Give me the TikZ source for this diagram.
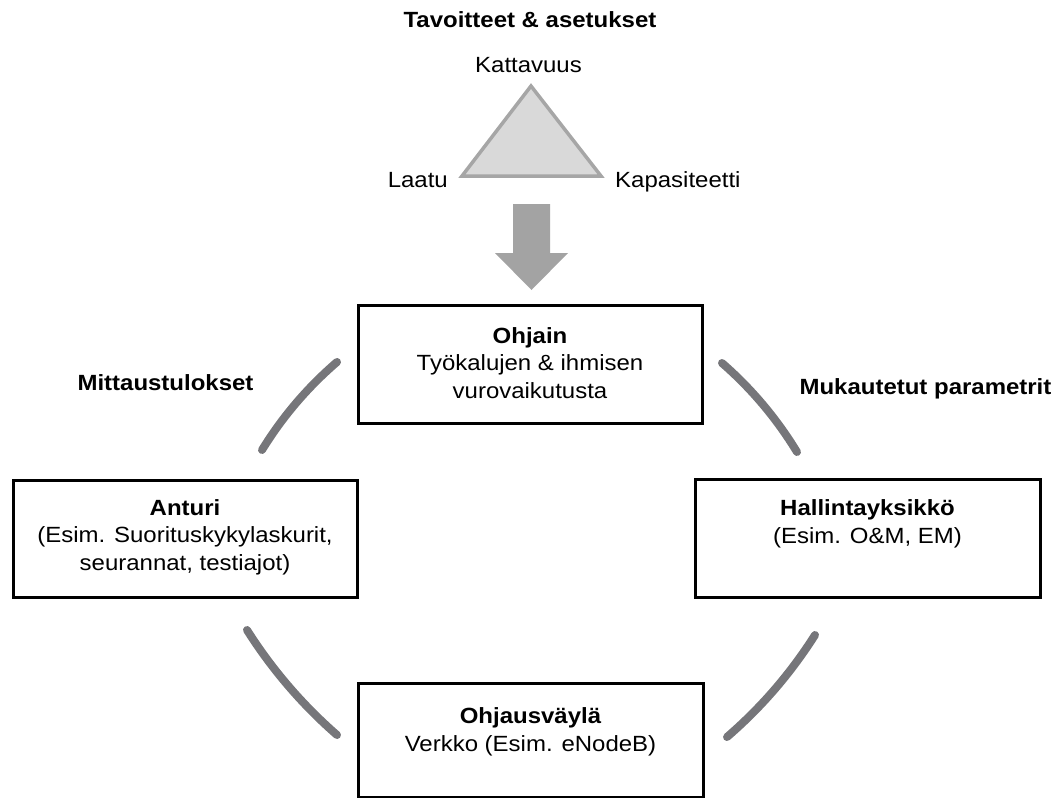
\documentclass[tikz,border=0pt]{standalone}
\usepackage{fontspec}
\setmainfont{Liberation Sans}[FakeStretch=1.09]
\definecolor{trifill}{HTML}{D9D9D9}
\definecolor{tridraw}{HTML}{A6A6A6}
\definecolor{arrowgray}{HTML}{A3A3A3}
\definecolor{arcgray}{HTML}{76767A}
\begin{document}
\begin{tikzpicture}[x=1pt,y=-1pt,
  box/.style={draw=black, line width=3pt, inner sep=0pt, fill=none},
  txt/.style={font=\fontsize{22}{27.5}\selectfont, align=center, inner sep=0pt},
  lbl/.style={font=\fontsize{22}{27.5}\selectfont\bfseries, inner sep=0pt},
  plain/.style={font=\fontsize{22}{27.5}\selectfont, inner sep=0pt},
  arcline/.style={draw=arcgray, line width=8pt, line cap=round}]
\useasboundingbox (0,0) rectangle (1061,798);

% title and triangle
\node[lbl, anchor=base] (title) at (530,27) {Tavoitteet \& asetukset};
\node[plain, anchor=base] (kattavuus) at (528.5,72) {Kattavuus};
\node[plain, anchor=base east] (laatu) at (448,187) {Laatu};
\node[plain, anchor=base west] (kapasiteetti) at (615,187) {Kapasiteetti};
\coordinate (tA) at (531,86);
\coordinate (tR) at (601,176);
\coordinate (tL) at (462,176);
\draw[fill=trifill, draw=tridraw, line width=3.5pt, line join=miter] (tA) -- (tR) -- (tL) -- cycle;

% block arrow
\fill[arrowgray] (513,204) -- (550,204) -- (550,253) -- (568,253) -- (531.5,290) -- (495,253) -- (513,253) -- cycle;

% boxes
\node[box, minimum width=344pt, minimum height=118pt] (ohjain) at (530,364) {};
\node[box, minimum width=344pt, minimum height=117pt] (anturi) at (185,538.5) {};
\node[box, minimum width=345pt, minimum height=118pt] (hallinta) at (867.5,538) {};
\node[box, minimum width=345pt, minimum height=114pt] (ohjaus) at (530.5,740) {};

% box texts (anchor=base is the baseline of the last line)
\node[txt, anchor=base] (ohjaintxt) at (530,398) {\textbf{Ohjain}\\Työkalujen \& ihmisen\\vurovaikutusta};
\node[txt, anchor=base] (anturitxt) at (185,570) {\textbf{Anturi}\\(Esim. Suorituskykylaskurit,\\seurannat, testiajot)};
\node[txt, anchor=base] (hallintatxt) at (867.5,543) {\textbf{Hallintayksikkö}\\(Esim. O\&M, EM)};
\node[txt, anchor=base] (ohjaustxt) at (530.5,751) {\textbf{Ohjausväylä}\\Verkko (Esim. eNodeB)};

% side labels
\node[lbl, anchor=base] (mittaus) at (165.5,390) {Mittaustulokset};
\node[lbl, anchor=base] (mukautetut) at (925.5,394) {Mukautetut parametrit};

% arcs
\coordinate (a1s) at (262,450); \coordinate (a1e) at (337,362);
\coordinate (a2s) at (722,363); \coordinate (a2e) at (797,452);
\coordinate (a3s) at (247,630); \coordinate (a3e) at (337,735);
\coordinate (a4s) at (815,635); \coordinate (a4e) at (727,737);
\draw[arcline] (a1s) .. controls (282.4,416.8) and (307.4,387.5) .. (a1e);
\draw[arcline] (a2s) .. controls (751.6,388.8) and (776.6,418.5) .. (a2e);
\draw[arcline] (a3s) .. controls (271.9,669.3) and (301.9,704.3) .. (a3e);
\draw[arcline] (a4s) .. controls (790.7,673.3) and (761.4,707.3) .. (a4e);
\end{tikzpicture}
\end{document}
